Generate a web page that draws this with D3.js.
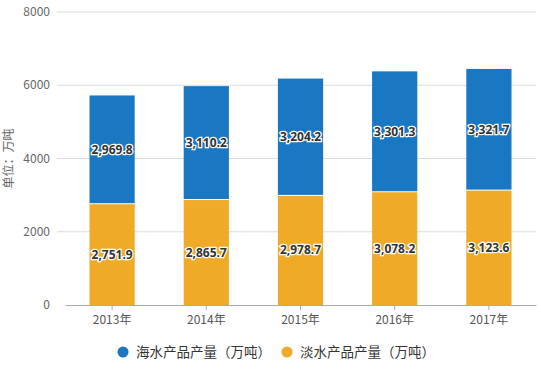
<!DOCTYPE html>
<html>
<head>
<meta charset="utf-8">
<script src="https://cdn.jsdelivr.net/npm/d3@7"></script>
<style>
  body { margin: 0; background: #fff; }
  text { font-family: "Noto Sans CJK SC", "Open Sans", sans-serif; }
</style>
</head>
<body>
<div id="chart"></div>
<script>
  // chart data
  var years = ["2013年", "2014年", "2015年", "2016年", "2017年"];
  var freshwater = [2751.9, 2865.7, 2978.7, 3078.2, 3123.6];
  var seawater = [2969.8, 3110.2, 3204.2, 3301.3, 3321.7];
  var yTicks = [0, 2000, 4000, 6000, 8000];
  var seriesNames = ["海水产品产量（万吨）", "淡水产品产量（万吨）"];
  var colors = ["#1a78c3", "#efaa27"];

  const width = 541, height = 386;
  const svg = d3.select("#chart").append("svg")
    .attr("width", width)
    .attr("height", height);

  const x = d3.scaleBand()
    .domain(years)
    .range([65, 536])
    .paddingInner(0.52)
    .paddingOuter(0.26);

  const y = d3.scaleLinear()
    .domain([0, 8000])
    .range([305, 12]);

  // grid lines
  svg.append("g").selectAll("line")
    .data(yTicks.slice(1))
    .enter().append("line")
    .attr("x1", 57).attr("x2", 536)
    .attr("y1", d => y(d)).attr("y2", d => y(d))
    .attr("stroke", "#dcdcdc")
    .attr("stroke-width", 1);

  // y axis labels
  svg.append("g").selectAll("text")
    .data(yTicks)
    .enter().append("text")
    .attr("x", 50)
    .attr("y", d => y(d) + 4)
    .attr("text-anchor", "end")
    .attr("fill", "#666")
    .style("font-size", "12px")
    .text(d => d);

  svg.append("text")
    .attr("transform", "translate(9," + y(4000) + ") rotate(-90)")
    .attr("text-anchor", "middle")
    .attr("dy", "0.35em")
    .attr("fill", "#666")
    .style("font-size", "12px")
    .text("单位：万吨");

  // stacked bars
  const stacked = years.map((yr, i) => ({
    year: yr,
    parts: [
      { key: 1, y0: 0, y1: freshwater[i], v: freshwater[i] },
      { key: 0, y0: freshwater[i], y1: freshwater[i] + seawater[i], v: seawater[i] }
    ]
  }));

  const groups = svg.append("g").selectAll("g")
    .data(stacked)
    .enter().append("g");

  groups.selectAll("rect")
    .data(d => d.parts.map(p => Object.assign({ year: d.year }, p)))
    .enter().append("rect")
    .attr("x", d => x(d.year))
    .attr("width", x.bandwidth())
    .attr("y", d => y(d.y1))
    .attr("height", d => y(d.y0) - y(d.y1) - (d.key === 0 ? 1 : 0))
    .attr("fill", d => colors[d.key]);

  const fmt = d3.format(",.1f");
  groups.selectAll("text")
    .data(d => d.parts.map(p => Object.assign({ year: d.year }, p)))
    .enter().append("text")
    .attr("x", d => x(d.year) + x.bandwidth() / 2)
    .attr("y", d => (y(d.y0) + y(d.y1)) / 2 + 4)
    .attr("text-anchor", "middle")
    .attr("fill", "#333")
    .attr("stroke", "#fff")
    .attr("stroke-width", 2.5)
    .attr("paint-order", "stroke")
    .style("font-size", "12px")
    .style("font-weight", "bold")
    .style("font-family", "'Open Sans', sans-serif")
    .text(d => fmt(d.v));

  // x axis
  const xAxis = svg.append("g")
    .attr("transform", "translate(0,305)")
    .call(d3.axisBottom(x).tickSize(5).tickSizeOuter(0));
  xAxis.select(".domain").attr("stroke", "#aaa");
  xAxis.selectAll(".tick line").attr("stroke", "#aaa");
  xAxis.selectAll(".tick text")
    .attr("fill", "#555")
    .attr("dy", "0.9em")
    .style("font-size", "12px")
    .style("font-family", "'Noto Sans CJK SC', sans-serif");

  // legend
  const legendX = [123, 287];
  const legend = svg.append("g").selectAll("g")
    .data(seriesNames)
    .enter().append("g")
    .attr("transform", (d, i) => "translate(" + legendX[i] + ",352)");
  legend.append("circle")
    .attr("r", 5.5)
    .attr("fill", (d, i) => colors[i]);
  legend.append("text")
    .attr("x", 13)
    .attr("y", 5)
    .attr("fill", "#333")
    .style("font-size", "13.5px")
    .text(d => d);
</script>
</body>
</html>
